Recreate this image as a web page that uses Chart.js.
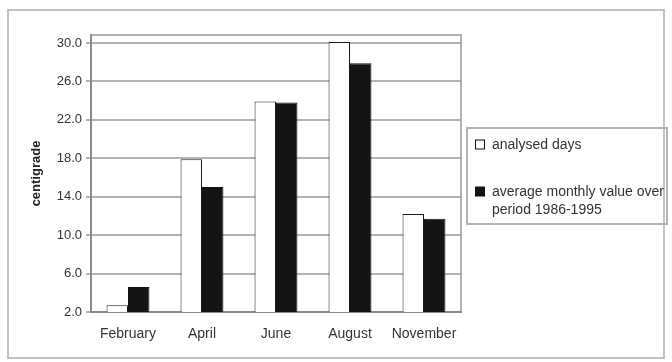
<!DOCTYPE html>
<html>
<head>
<meta charset="utf-8">
<script src="https://cdn.jsdelivr.net/npm/chart.js@4/dist/chart.umd.min.js"></script>
<style>
  html, body { margin: 0; padding: 0; background: #fff; }
  #wrap { position: relative; width: 672px; height: 362px; }
</style>
</head>
<body>
<div id="wrap"><canvas id="c" width="672" height="362"></canvas></div>
<script>
const categories = ["February", "April", "June", "August", "November"];
const analysedDays = [2.7, 17.9, 23.9, 30.1, 12.2];
const monthlyAverage = [4.6, 15.0, 23.8, 27.9, 11.7];
const yTicks = [2.0, 6.0, 10.0, 14.0, 18.0, 22.0, 26.0, 30.0];
const seriesLabels = ["analysed days", ["average monthly value over", "period 1986-1995"]];
const yTitle = "centigrade";

const FONT = "'Liberation Sans', Arial, sans-serif";

const framePlugin = {
  id: 'frame',
  beforeDraw(chart) {
    const ctx = chart.ctx;
    ctx.save();
    ctx.fillStyle = '#fff';
    ctx.fillRect(0, 0, chart.width, chart.height);
    ctx.strokeStyle = '#c4c4c4';
    ctx.lineWidth = 2;
    ctx.strokeRect(8, 10, chart.width - 16, chart.height - 14);
    ctx.restore();
  },
  afterDatasetsDraw(chart) {
    const {ctx, chartArea: a} = chart;
    ctx.save();
    ctx.strokeStyle = '#9a9a9a';
    ctx.lineWidth = 1.5;
    ctx.beginPath();
    ctx.moveTo(a.left, a.top);
    ctx.lineTo(a.right, a.top);
    ctx.lineTo(a.right, a.bottom);
    ctx.stroke();
    // legend box
    const lx = a.right + 6, ly = 128, lw = chart.width - 5 - lx, lh = 96;
    ctx.strokeStyle = '#b4b4b4';
    ctx.lineWidth = 2;
    ctx.strokeRect(lx, ly, lw, lh);
    ctx.font = '14px ' + FONT;
    ctx.fillStyle = '#333';
    ctx.textBaseline = 'middle';
    const ds = chart.data.datasets;
    const rows = [145, 192];
    ds.forEach((d, i) => {
      const y = rows[i];
      ctx.fillStyle = d.backgroundColor;
      ctx.fillRect(lx + 8.5, y - 5, 9, 9);
      ctx.strokeStyle = '#111';
      ctx.lineWidth = 1;
      ctx.strokeRect(lx + 8.5, y - 5, 9, 9);
      ctx.fillStyle = '#333';
      const lines = Array.isArray(d.label) ? d.label : [d.label];
      lines.forEach((t, k) => ctx.fillText(t, lx + 25, y + k * 18));
    });
    ctx.restore();
  }
};

new Chart(document.getElementById('c'), {
  type: 'bar',
  data: {
    labels: categories,
    datasets: [
      { label: seriesLabels[0], data: analysedDays, backgroundColor: '#ffffff', borderColor: '#1a1a1a', borderWidth: 1, borderSkipped: false },
      { label: seriesLabels[1], data: monthlyAverage, backgroundColor: '#141414', borderColor: '#141414', borderWidth: 1, borderSkipped: false }
    ]
  },
  options: {
    responsive: false,
    animation: false,
    events: [],
    layout: { padding: { left: 25, right: 211, top: 35, bottom: 18 } },
    plugins: { legend: { display: false }, tooltip: { enabled: false } },
    datasets: { bar: { categoryPercentage: 0.58, barPercentage: 1.0 } },
    scales: {
      x: {
        grid: { display: false, drawTicks: false },
        border: { display: true, color: '#8a8a8a', width: 2 },
        ticks: { color: '#333', font: { family: FONT, size: 14 }, padding: 14, maxRotation: 0 },
        afterFit(s) { s.height = 32; }
      },
      y: {
        min: 2,
        max: 30.83,
        afterBuildTicks(s) { s.ticks = yTicks.map(v => ({ value: v })); },
        grid: { color: '#b4b4b4', lineWidth: 2, tickLength: 5, drawTicks: true },
        border: { display: true, color: '#8a8a8a', width: 2 },
        ticks: { color: '#333', font: { family: FONT, size: 13 }, padding: 4, callback: v => Number(v).toFixed(1) },
        title: { display: true, text: yTitle, color: '#222', font: { family: FONT, size: 13, weight: 'bold' } },
        afterFit(s) { s.width = 66; }
      }
    }
  },
  plugins: [framePlugin]
});
</script>
</body>
</html>
